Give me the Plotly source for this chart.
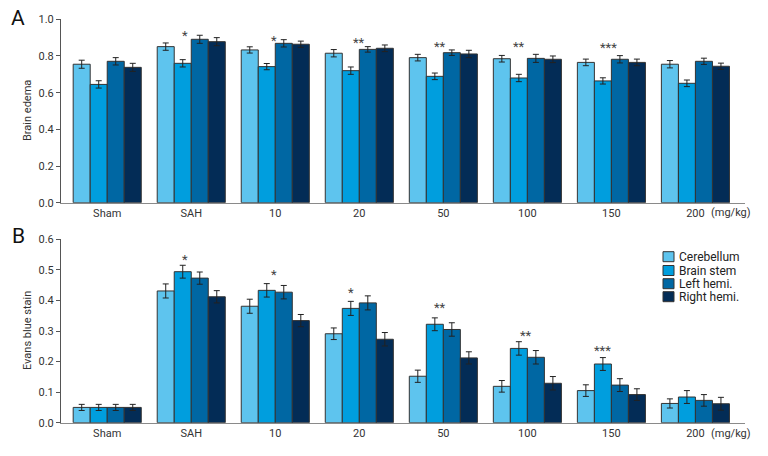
import plotly.graph_objects as go

W, H = 768, 456

categories = ["Sham", "SAH", "10", "20", "50", "100", "150", "200"]
series_names = ["Cerebellum", "Brain stem", "Left hemi.", "Right hemi."]

# Panel A: brain edema
edema_cereb = [0.755, 0.851, 0.833, 0.815, 0.791, 0.785, 0.765, 0.755]
edema_stem = [0.645, 0.760, 0.742, 0.720, 0.689, 0.680, 0.664, 0.651]
edema_left = [0.771, 0.891, 0.869, 0.836, 0.818, 0.787, 0.782, 0.771]
edema_right = [0.738, 0.878, 0.864, 0.842, 0.811, 0.782, 0.765, 0.744]
edema_err_cereb = [0.022, 0.020, 0.017, 0.020, 0.018, 0.018, 0.018, 0.020]
edema_err_stem = [0.020, 0.020, 0.017, 0.020, 0.018, 0.020, 0.017, 0.018]
edema_err_left = [0.020, 0.022, 0.020, 0.015, 0.015, 0.022, 0.020, 0.017]
edema_err_right = [0.022, 0.022, 0.017, 0.018, 0.020, 0.018, 0.018, 0.017]

# Panel B: Evans blue stain
evans_cereb = [0.050, 0.431, 0.381, 0.291, 0.152, 0.119, 0.105, 0.063]
evans_stem = [0.050, 0.494, 0.433, 0.374, 0.322, 0.243, 0.192, 0.084]
evans_left = [0.050, 0.473, 0.427, 0.392, 0.305, 0.214, 0.123, 0.073]
evans_right = [0.050, 0.412, 0.334, 0.273, 0.212, 0.129, 0.092, 0.062]
evans_err_cereb = [0.010, 0.023, 0.023, 0.019, 0.020, 0.019, 0.019, 0.015]
evans_err_stem = [0.010, 0.021, 0.022, 0.023, 0.021, 0.022, 0.021, 0.021]
evans_err_left = [0.010, 0.020, 0.022, 0.023, 0.022, 0.022, 0.021, 0.019]
evans_err_right = [0.010, 0.020, 0.020, 0.022, 0.020, 0.022, 0.019, 0.021]

# significance marks
stars_a_labels = ["", "*", "*", "**", "**", "**", "***", ""]
stars_b_labels = ["", "*", "*", "*", "**", "**", "***", ""]
stars_a_y = [None, 0.927, 0.900, 0.890, 0.870, 0.870, 0.862, None]
stars_a_x = [None, 0.93, 1.98, 3.0, 3.96, 4.9, 5.96, None]
stars_b_y = [None, 0.543, 0.494, 0.436, 0.388, 0.296, 0.247, None]
stars_b_x = [None, 0.93, 1.98, 2.9, 3.96, 4.98, 5.9, None]

colors = ["#5EC4EE", "#009EDE", "#0067A3", "#032C56"]
FONT = "Roboto, Liberation Sans, sans-serif"


def px_x(x):
    return x / W


def px_y(y):
    return (H - y) / H


fig = go.Figure()

edema = [edema_cereb, edema_stem, edema_left, edema_right]
edema_err = [edema_err_cereb, edema_err_stem, edema_err_left, edema_err_right]
evans = [evans_cereb, evans_stem, evans_left, evans_right]
evans_err = [evans_err_cereb, evans_err_stem, evans_err_left, evans_err_right]

for i, name in enumerate(series_names):
    fig.add_trace(go.Bar(
        x=categories, y=edema[i], name=name, xaxis="x", yaxis="y",
        marker=dict(color=colors[i], line=dict(color="#333333", width=1)),
        error_y=dict(type="data", array=edema_err[i], color="#222222", thickness=1, width=3),
        showlegend=False, offsetgroup=str(i),
    ))
for i, name in enumerate(series_names):
    fig.add_trace(go.Bar(
        x=categories, y=evans[i], name=name, xaxis="x2", yaxis="y2",
        marker=dict(color=colors[i], line=dict(color="#333333", width=1)),
        error_y=dict(type="data", array=evans_err[i], color="#222222", thickness=1, width=3),
        showlegend=False, offsetgroup=str(i),
    ))

xdom = [px_x(61), px_x(745)]
ydom_a = [px_y(202.7), px_y(19.3)]
ydom_b = [px_y(422.7), px_y(239.3)]

xaxis_common = dict(
    domain=xdom, range=[-0.55, 7.59], type="category",
    showline=True, linecolor="#8a8a8a", linewidth=1.2, ticks="",
    showgrid=False, zeroline=False, automargin=False,
    tickfont=dict(family=FONT, size=11, color="#333333"),
)
yaxis_common = dict(
    showline=True, linecolor="#555555", linewidth=1, ticks="outside", ticklen=4,
    tickcolor="#555555", showgrid=False, zeroline=False, automargin=False,
    tickformat=".1f", tickfont=dict(family=FONT, size=11, color="#333333"),
)

annotations = []
for i in range(len(categories)):
    if stars_a_labels[i]:
        annotations.append(dict(x=stars_a_x[i], y=stars_a_y[i], xref="x", yref="y",
                                text=stars_a_labels[i], showarrow=False,
                                font=dict(family=FONT, size=13, color="#444444"), yshift=-3))
    if stars_b_labels[i]:
        annotations.append(dict(x=stars_b_x[i], y=stars_b_y[i], xref="x2", yref="y2",
                                text=stars_b_labels[i], showarrow=False,
                                font=dict(family=FONT, size=13, color="#444444"), yshift=-3))

for lab, y in [("A", 18), ("B", 236)]:
    annotations.append(dict(x=px_x(18), y=px_y(y), xref="paper", yref="paper", text=lab,
                            xanchor="center", yanchor="middle",
                            showarrow=False, font=dict(family=FONT, size=21, color="#111111")))
for lab, y in [("Brain edema", 111), ("Evans blue stain", 331)]:
    annotations.append(dict(x=px_x(27), y=px_y(y), xref="paper", yref="paper", text=lab,
                            xanchor="center", yanchor="middle",
                            textangle=-90, showarrow=False,
                            font=dict(family=FONT, size=11, color="#333333")))
for y in [213, 433]:
    annotations.append(dict(x=px_x(731), y=px_y(y), xref="paper", yref="paper", text="(mg/kg)",
                            xanchor="center", yanchor="middle",
                            showarrow=False, font=dict(family=FONT, size=11, color="#333333")))

# legend (panel B)
shapes = []
leg_y = [256.7, 270.5, 283.7, 296.7]
for i, name in enumerate(series_names):
    yc = leg_y[i]
    shapes.append(dict(type="rect", xref="paper", yref="paper",
                       x0=px_x(663), x1=px_x(674), y0=px_y(yc + 5), y1=px_y(yc - 5),
                       fillcolor=colors[i], line=dict(color="#333333", width=1)))
    annotations.append(dict(x=px_x(677), y=px_y(yc), xref="paper", yref="paper", text=name,
                            xanchor="left", yanchor="middle", showarrow=False,
                            font=dict(family=FONT, size=12, color="#222222")))

fig.update_layout(
    width=W, height=H, margin=dict(l=0, r=0, t=0, b=0),
    paper_bgcolor="white", plot_bgcolor="white",
    barmode="group", bargap=0.19, bargroupgap=0,
    xaxis=dict(**xaxis_common, anchor="y"),
    yaxis=dict(**yaxis_common, domain=ydom_a, range=[0, 1.0], dtick=0.2, anchor="x"),
    xaxis2=dict(**xaxis_common, anchor="y2"),
    yaxis2=dict(**yaxis_common, domain=ydom_b, range=[0, 0.6], dtick=0.1, anchor="x2"),
    annotations=annotations, shapes=shapes, showlegend=False,
)

fig.write_html("out.html", config={"displayModeBar": False},
               post_script="document.body.style.margin='0px';")
